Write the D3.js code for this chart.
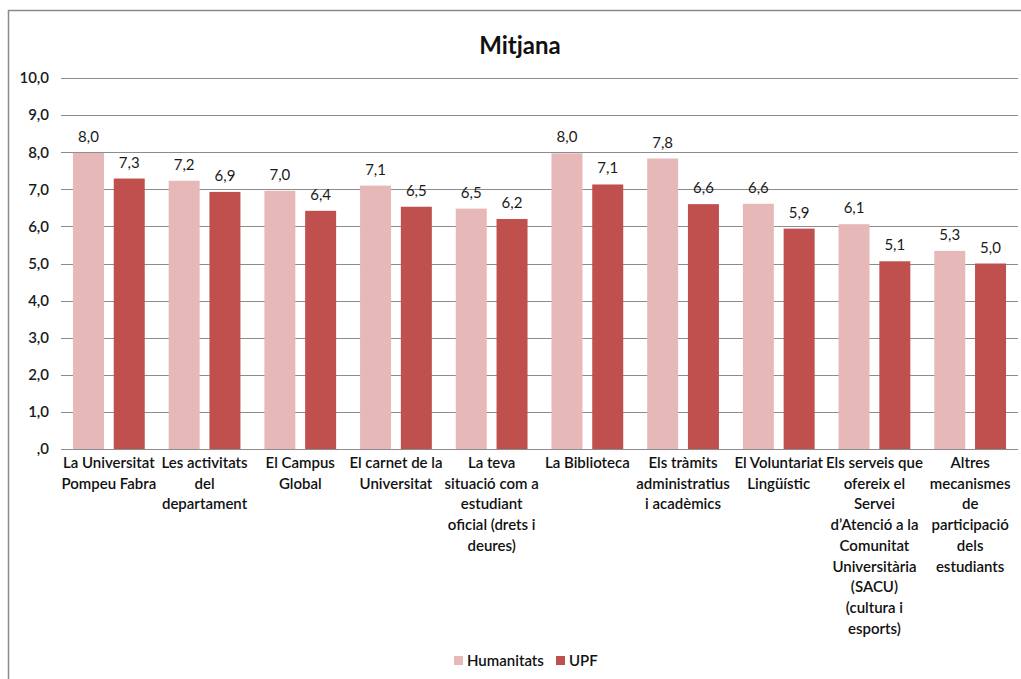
<!DOCTYPE html>
<html>
<head>
<meta charset="utf-8">
<script src="https://cdn.jsdelivr.net/npm/d3@7"></script>
<style>
  html, body { margin: 0; padding: 0; background: #fff; }
  svg { display: block; }
  text { font-family: Lato, "Open Sans", sans-serif; }
</style>
</head>
<body>
<svg id="chart" width="1021" height="679"></svg>
<script>
const title = "Mitjana";
const categories = [
  "La Universitat\nPompeu Fabra",
  "Les activitats\ndel\ndepartament",
  "El Campus\nGlobal",
  "El carnet de la\nUniversitat",
  "La teva\nsituació com a\nestudiant\noficial (drets i\ndeures)",
  "La Biblioteca",
  "Els tràmits\nadministratius\ni acadèmics",
  "El Voluntariat\nLingüístic",
  "Els serveis que\nofereix el\nServei\nd’Atenció a la\nComunitat\nUniversitària\n(SACU)\n(cultura i\nesports)",
  "Altres\nmecanismes\nde\nparticipació\ndels\nestudiants"
];
const seriesNames = ["Humanitats", "UPF"];
const humanitats = [7.98, 7.23, 6.96, 7.10, 6.48, 7.97, 7.83, 6.61, 6.06, 5.34];
const upf        = [7.29, 6.93, 6.42, 6.53, 6.20, 7.13, 6.60, 5.94, 5.06, 5.00];
const yTicks = [0, 1, 2, 3, 4, 5, 6, 7, 8, 9, 10];
const yTickLabels = [",0", "1,0", "2,0", "3,0", "4,0", "5,0", "6,0", "7,0", "8,0", "9,0", "10,0"];
const colors = ["#E6B9B8", "#C0504D"];

const svg = d3.select("#chart");
const W = 1021, H = 679;
const plot = { left: 61, right: 1018, top: 78, bottom: 449 };

// frame
svg.append("rect")
  .attr("x", 8.5).attr("y", 10.5)
  .attr("width", W + 20).attr("height", H + 20)
  .attr("fill", "#fff").attr("stroke", "#8a8a8a").attr("stroke-width", 1.5);

const x0 = d3.scaleBand().domain(d3.range(categories.length))
  .range([plot.left, plot.right]).paddingInner(0.25).paddingOuter(0.125);
const x1 = d3.scaleBand().domain(seriesNames).range([0, x0.bandwidth()]).paddingInner(0.24);
const y = d3.scaleLinear().domain([0, 10]).range([plot.bottom, plot.top]);

// gridlines
svg.append("g").selectAll("line").data(yTicks).join("line")
  .attr("x1", plot.left).attr("x2", plot.right)
  .attr("y1", d => Math.round(y(d)) + 0.5).attr("y2", d => Math.round(y(d)) + 0.5)
  .attr("stroke", "#8c8c8c").attr("stroke-width", 1.2);

// y axis labels
const yAxis = d3.axisLeft(y).tickValues(yTicks).tickSize(0).tickPadding(0)
  .tickFormat((d, i) => yTickLabels[i]);
const ya = svg.append("g").attr("transform", `translate(${plot.left - 12},0)`).call(yAxis);
ya.select(".domain").remove();
ya.selectAll("text").attr("font-size", 15).attr("font-weight", 600)
  .attr("fill", "#1a1a1a").style("font-family", "Lato, sans-serif");

// bars
const series = [humanitats, upf];
const groups = svg.append("g").selectAll("g").data(categories.map((c, i) => i)).join("g")
  .attr("transform", i => `translate(${x0(i)},0)`);
groups.selectAll("rect").data(i => seriesNames.map((s, k) => ({ s, v: series[k][i], k })))
  .join("rect")
  .attr("x", d => x1(d.s)).attr("width", x1.bandwidth())
  .attr("y", d => y(d.v)).attr("height", d => y(0) - y(d.v))
  .attr("fill", d => colors[d.k]);

const fmt = v => d3.format(".1f")(v).replace(".", ",");
groups.selectAll("text.val").data(i => seriesNames.map((s, k) => ({ s, v: series[k][i], k })))
  .join("text").attr("class", "val")
  .attr("x", d => x1(d.s) + x1.bandwidth() / 2)
  .attr("y", d => y(d.v) - 11)
  .attr("text-anchor", "middle").attr("font-size", 15).attr("fill", "#1a1a1a")
  .text(d => fmt(d.v));

// category labels
const xa = svg.append("g");
categories.forEach((c, i) => {
  const t = xa.append("text")
    .attr("x", x0(i) + x0.bandwidth() / 2)
    .attr("y", plot.bottom + 19)
    .attr("text-anchor", "middle").attr("font-size", 15).attr("font-weight", 600)
    .attr("fill", "#111");
  c.split("\n").forEach((line, j) => {
    t.append("tspan").attr("x", x0(i) + x0.bandwidth() / 2)
      .attr("dy", j === 0 ? 0 : 20.7).text(line);
  });
});

// title
svg.append("text").attr("x", 520).attr("y", 54)
  .attr("text-anchor", "middle").attr("font-size", 24).attr("font-weight", 700)
  .attr("fill", "#111").text(title);

// legend
const legendItems = [{ name: seriesNames[0], x: 454 }, { name: seriesNames[1], x: 556 }];
const lg = svg.append("g");
legendItems.forEach((d, k) => {
  lg.append("rect").attr("x", d.x).attr("y", 656).attr("width", 9).attr("height", 9)
    .attr("fill", colors[k]);
  lg.append("text").attr("x", d.x + 13).attr("y", 666)
    .attr("font-size", 15).attr("font-weight", 600).attr("fill", "#111").text(d.name);
});
</script>
</body>
</html>
